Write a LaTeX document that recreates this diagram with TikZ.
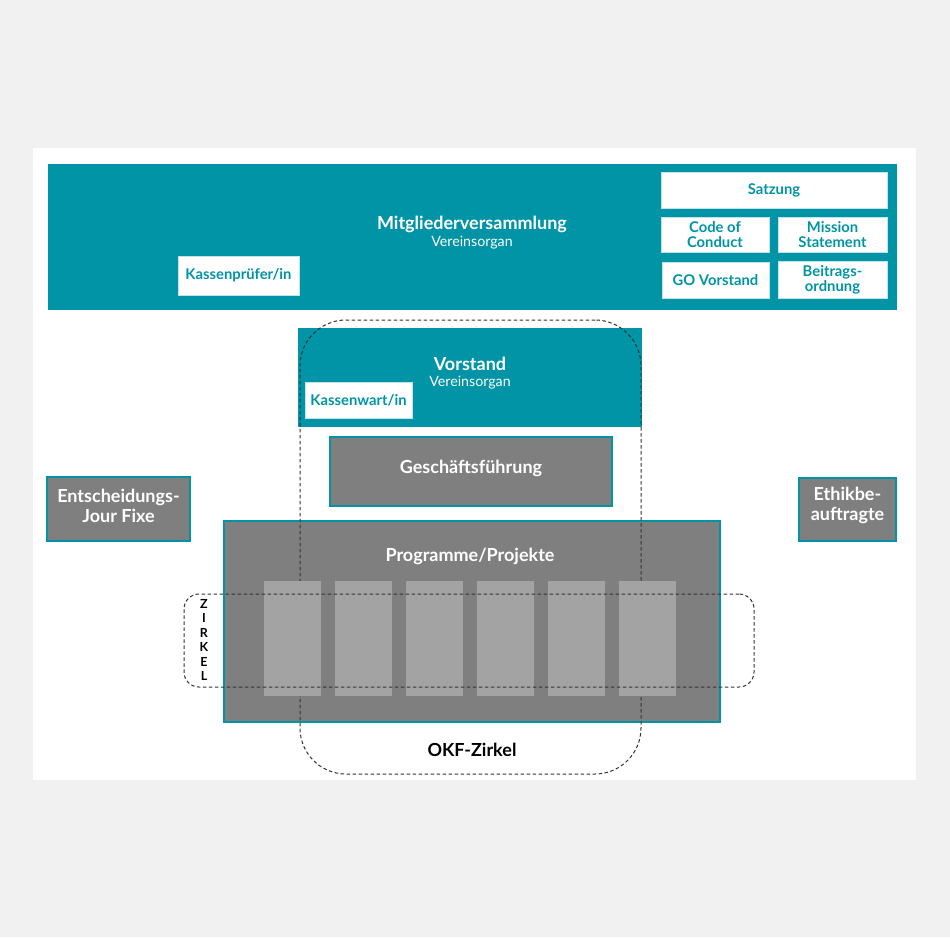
\documentclass[tikz,border=0pt]{standalone}
\usepackage{fontspec}
\setmainfont{Lato}
\definecolor{okfteal}{HTML}{0094A6}
\definecolor{okfgray}{HTML}{7F7F7F}
\definecolor{okflight}{HTML}{A3A3A3}
\definecolor{okfbg}{HTML}{F1F1F1}
\definecolor{okfdash}{HTML}{333333}

\begin{document}
\begin{tikzpicture}[x=1pt,y=-1pt,
  tealbox/.style={fill=okfteal, draw=none, inner sep=0pt},
  docbox/.style={fill=white, draw=okfteal!25, line width=0.6pt, text=okfteal, inner sep=0pt,
    align=center, font=\fontsize{14.8}{15}\selectfont\bfseries},
  graybox/.style={fill=okfgray, draw=okfteal, line width=2.4pt, text=white, inner sep=0pt,
    align=center, font=\fontsize{18}{20}\selectfont\bfseries},
  projbox/.style={fill=okflight, draw=none, inner sep=0pt, minimum width=57, minimum height=115},
  titletext/.style={text=white, font=\fontsize{18}{20}\selectfont\bfseries},
  subtext/.style={text=white, font=\fontsize{14.2}{15}\selectfont},
  zirkelline/.style={draw=okfdash, dash pattern=on 3.5pt off 2.5pt, line width=1pt, inner sep=0pt}]
  % Hintergrund
  \fill[okfbg] (0,0) rectangle (950,937);
  \fill[white] (33,148) rectangle (916,780);
  \useasboundingbox (0,0) rectangle (950,937);

  % Mitgliederversammlung
  \node[tealbox, minimum width=849, minimum height=146] (mv) at (472.5,237) {};
  \node[titletext] (mvtitle) at (472,224) {Mitgliederversammlung};
  \node[subtext] (mvsub) at (472,243) {Vereinsorgan};
  \node[docbox, minimum width=121, minimum height=39] (pruefer) at (238.5,275.5) {Kassenprüfer/in};
  \node[docbox, minimum width=226, minimum height=36] (satzung) at (774,190) {Satzung};
  \node[docbox, minimum width=108, minimum height=35] (coc) at (715,234.5) {Code of\\Conduct};
  \node[docbox, minimum width=109, minimum height=35] (mission) at (832.5,234.5) {Mission\\Statement};
  \node[docbox, minimum width=107, minimum height=36] (govorstand) at (715.5,280) {GO Vorstand};
  \node[docbox, minimum width=109, minimum height=37] (beitrag) at (832.5,279.5) {Beitrags-\\ordnung};

  % Vorstand
  \node[tealbox, minimum width=344, minimum height=99] (vorstand) at (470,377.5) {};
  \node[titletext] (vtitle) at (470,364) {Vorstand};
  \node[subtext] (vsub) at (470,383) {Vereinsorgan};
  \node[docbox, minimum width=107, minimum height=36] (kassenwart) at (358.5,400) {Kassenwart/in};

  % Geschaeftsfuehrung und Seitenboxen
  \node[graybox, minimum width=282, minimum height=69] (gf) at (471,471.5) {};
  \node[text=white, font=\fontsize{18}{20}\selectfont\bfseries] (gftext) at (471,468) {Geschäftsführung};
  \node[graybox, minimum width=143, minimum height=64] (jourfixe) at (118.5,509) {};
  \node[text=white, align=center, font=\fontsize{18}{20}\selectfont\bfseries] (jftext) at (118.5,505.5) {Entscheidungs-\\Jour Fixe};
  \node[graybox, minimum width=97, minimum height=63] (ethik) at (847.5,509.5) {};
  \node[text=white, align=center, font=\fontsize{18}{20}\selectfont\bfseries] (ethiktext) at (847.5,505.5) {Ethikbe-\\auftragte};

  % Programme/Projekte
  \node[graybox, minimum width=496, minimum height=201] (programme) at (472,621.5) {};
  \node[titletext] (ptitle) at (470,556) {Programme/Projekte};

  % OKF-Zirkel
  \node[zirkelline, rounded corners=46, minimum width=341, minimum height=454] (okf) at (470.5,547) {};
  \node[font=\fontsize{18}{20}\selectfont\bfseries] (okflabel) at (472,750) {OKF-Zirkel};

  \foreach \i in {0,...,5}
    \node[projbox] (proj\i) at (292.5+71*\i,638.5) {};

  % Zirkel
  \node[zirkelline, rounded corners=15, minimum width=570, minimum height=93] (zirkel) at (469,640.5) {};
  \node[align=center, font=\fontsize{12.5}{14.5}\selectfont\bfseries] (zirkellabel) at (204,640) {Z\\I\\R\\K\\E\\L};
\end{tikzpicture}
\end{document}
